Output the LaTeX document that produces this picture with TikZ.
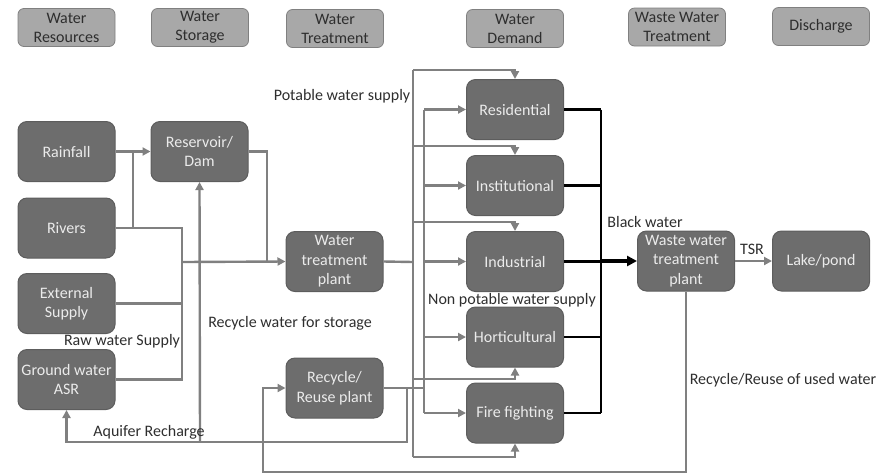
\documentclass[tikz,border=0pt]{standalone}
\usepackage{fontspec}
\setmainfont{Carlito}
\usetikzlibrary{arrows.meta,calc,positioning}
\definecolor{boxgray}{HTML}{6D6D6D}
\definecolor{hdrgray}{HTML}{A8A8A8}
\definecolor{linegray}{HTML}{808080}
\definecolor{txtgray}{HTML}{2E2E2E}

\begin{document}
\begin{tikzpicture}[x=1pt,y=-1pt,
    blk/.style={draw=boxgray!85!black, fill=boxgray, line width=1pt, rounded corners=9pt,
        minimum width=97pt, minimum height=60pt, inner sep=1pt, align=center,
        text=white!92!black, font=\fontsize{16}{19.5}\selectfont},
    hdr/.style={draw=gray, fill=hdrgray, line width=0.8pt, rounded corners=6pt,
        minimum width=97pt, minimum height=38pt, inner sep=1pt, align=center,
        text=txtgray, font=\fontsize{16}{19}\selectfont},
    lbl/.style={text=txtgray, inner sep=0pt, font=\fontsize{16}{19}\selectfont},
    pipe/.style={draw=linegray, line width=2.4pt},
    flow/.style={pipe, -{Triangle[length=8pt,width=8pt]}},
    bw/.style={draw=black, line width=2.4pt},
    bwflow/.style={draw=black, line width=3.2pt, -{Triangle[length=10pt,width=10pt]}}]
    \useasboundingbox (0,0) rectangle (893,475);
    %Headers
    \node[hdr] (hres) at (66.5,27.5) {Water\\Resources};
    \node[hdr] (hsto) at (200,27.5) {Water\\Storage};
    \node[hdr] (htrt) at (335,28.5) {Water\\Treatment};
    \node[hdr] (hdem) at (515,28.5) {Water\\Demand};
    \node[hdr] (hwwt) at (677,27) {Waste Water\\Treatment};
    \node[hdr] (hdis) at (821,26.5) {Discharge};
    %Boxes
    \node[blk] (rain) at (66.5,151.5) {Rainfall};
    \node[blk] (riv)  at (66.5,228) {Rivers};
    \node[blk] (ext)  at (66.5,303.5) {External\\Supply};
    \node[blk] (gw)   at (66.5,379.5) {Ground water\\ASR};
    \node[blk] (dam)  at (199.5,151.5) {Reservoir/\\Dam};
    \node[blk] (wtp)  at (334.5,261.5) {Water\\treatment\\plant};
    \node[blk] (rcy)  at (334.5,388) {Recycle/\\Reuse plant};
    \node[blk] (resi) at (515,109.5) {Residential};
    \node[blk] (inst) at (515,185.5) {Institutional};
    \node[blk] (ind)  at (515,261.5) {Industrial};
    \node[blk] (hort) at (515,337) {Horticultural};
    \node[blk] (fire) at (515,413) {Fire fighting};
    \node[blk] (wwtp) at (686,261) {Waste water\\treatment\\plant};
    \node[blk] (lake) at (821,261) {Lake/pond};
    %Junctions
    \coordinate (jr) at (133,151.5);
    \coordinate (jraw) at (182,262);
    \coordinate (jdam) at (267,262);
    \coordinate (jaq) at (200,442);
    \coordinate (jpot) at (413,262);
    \coordinate (jnon) at (424,388);
    \coordinate (jblk) at (601,261);
    \coordinate (jbot) at (263,472);
    %Raw water
    \draw[flow] (rain.east) -- (dam.west);
    \draw[pipe] (riv.east) -| (jr);
    \draw[pipe] (riv.east) -| (gw.east -| jraw) -- (gw.east);
    \draw[pipe] (ext.east) -- (ext.east -| jraw);
    \draw[flow] (jraw) -- (wtp.west);
    \draw[pipe] (dam.east) -| (jdam);
    %Recycle to storage and aquifer
    \draw[pipe] (rcy.east) -- (jnon);
    \draw[pipe] (rcy.east -| 407,0) |- (jaq);
    \draw[flow] (jaq) -| (gw.south);
    \draw[flow] (jaq) -- (dam.south);
    %Potable supply
    \draw[pipe] (wtp.east) -- (jpot);
    \draw[pipe] (413,70) -- (413,457);
    \draw[flow] (413,70) -| (resi.north);
    \draw[flow] (413,146) -| (inst.north);
    \draw[flow] (413,222) -| (ind.north);
    \draw[flow] (413,379) -| (hort.south);
    \draw[flow] (413,457) -| (fire.south);
    %Non potable supply
    \draw[pipe] (resi.west -| jnon) -- (fire.west -| jnon);
    \foreach \d in {resi,inst,ind,hort,fire}
        \draw[flow] (\d.west -| jnon) -- (\d.west);
    %Black water
    \foreach \d in {resi,inst,ind,hort,fire}
        \draw[bw] (\d.east) -- (\d.east -| jblk);
    \draw[bw] (resi.east -| jblk) -- (fire.east -| jblk);
    \draw[bwflow] (jblk) -- (wwtp.west);
    \draw[flow] (wwtp.east) -- (lake.west);
    %Reuse of used water
    \draw[flow] (wwtp.south) |- (jbot) |- (rcy.west);
    %Labels
    \node[lbl] (lpot) at (342,96) {Potable water supply};
    \node[lbl] (lraw) at (122,341) {Raw water Supply};
    \node[lbl] (lsto) at (290,323) {Recycle water for storage};
    \node[lbl] (laq)  at (149,432) {Aquifer Recharge};
    \node[lbl] (lnon) at (512,300) {Non potable water supply};
    \node[lbl] (lblk) at (645,222) {Black water};
    \node[lbl] (ltsr) at (752,249) {TSR};
    \node[lbl] (luse) at (783,380) {Recycle/Reuse of used water};
\end{tikzpicture}
\end{document}
